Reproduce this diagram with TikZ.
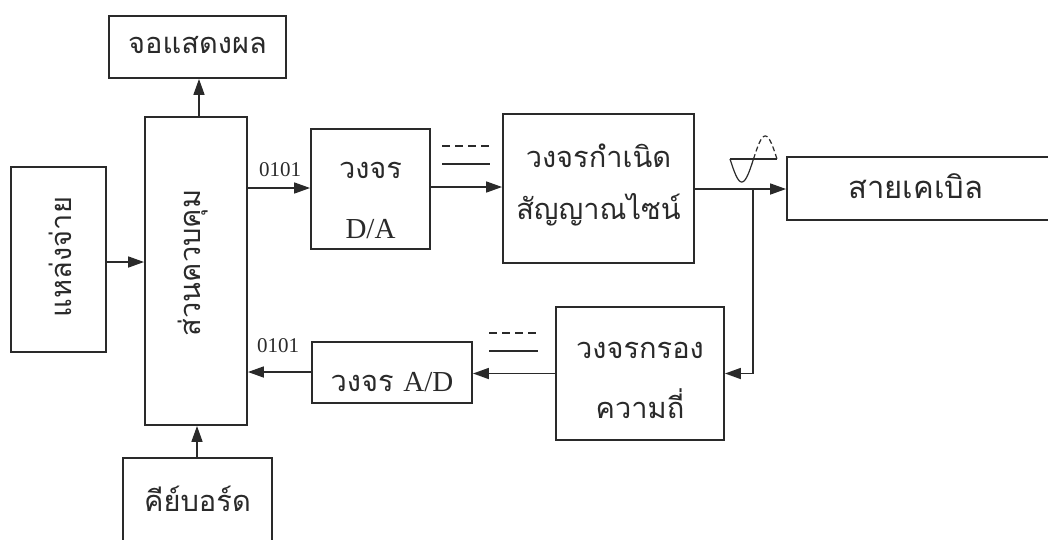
\documentclass[tikz,border=0pt]{standalone}
\usepackage{fontspec}
\setmainfont{Liberation Serif}
\newfontfamily\thai[Script=Thai]{Loma}
\usetikzlibrary{arrows.meta}
\definecolor{ink}{HTML}{2A2A2A}
\tikzset{
  box/.style={draw=ink, line width=1.9pt, inner sep=0pt, text=ink, align=center},
  lbl/.style={text=ink, inner sep=0pt, font=\thai\fontsize{29}{34}\selectfont},
  num/.style={text=ink, inner sep=0pt, font=\fontsize{21}{24}\selectfont},
  conn/.style={draw=ink, line width=1.7pt},
  arr/.style={conn, -{Triangle[length=16pt,width=11pt]}},
}
\begin{document}
\begin{tikzpicture}[x=1pt,y=-1pt]
\useasboundingbox (0,0) rectangle (1048,539);
\clip (0,0) rectangle (1048,539);
\fill[white] (0,0) rectangle (1048,539);
% boxes
\node[box, minimum width=177pt, minimum height=62pt] (disp) at (197.5,47) {};
\node[lbl] (dispT) at (197.5,45) {จอแสดงผล};
\node[box, minimum width=102pt, minimum height=308pt] (ctrl) at (196,271) {};
\node[lbl, rotate=90] (ctrlT) at (193,263) {ส่วนควบคุม};
\node[box, minimum width=95pt, minimum height=185pt] (src) at (58.5,259.5) {};
\node[lbl, rotate=90] (srcT) at (60,257) {แหล่งจ่าย};
\node[box, minimum width=119pt, minimum height=120pt] (da) at (370.5,189) {};
\node[lbl] (daT1) at (370.5,170) {วงจร};
\node[lbl, font=\fontsize{29}{32}\selectfont] (daT2) at (370.5,229) {D/A};
\node[box, minimum width=191pt, minimum height=149pt] (gen) at (598.5,188.5) {};
\node[lbl] (genT1) at (598.5,156) {วงจรกำเนิด};
\node[lbl] (genT2) at (598.5,210) {สัญญาณไซน์};
\node[box, minimum width=270pt, minimum height=63pt] (cable) at (922,188.5) {};
\node[lbl, font=\thai\fontsize{31}{34}\selectfont] (cableT) at (916,186) {สายเคเบิล};
\node[box, minimum width=168pt, minimum height=133pt] (filt) at (640,373.5) {};
\node[lbl] (filtT1) at (640,350) {วงจรกรอง};
\node[lbl] (filtT2) at (640,404) {ความถี่};
\node[box, minimum width=160pt, minimum height=61pt] (ad) at (392,372.5) {};
\node[lbl] (adT) at (392,382) {วงจร {\rmfamily\fontsize{29}{32}\selectfont A/D}};
\node[box, minimum width=149pt, minimum height=110pt] (kb) at (197.5,513) {};
\node[lbl] (kbT) at (197.5,499) {คีย์บอร์ด};
% labels 0101
\node[num] (n1) at (280,170) {0101};
\node[num] (n2) at (278,346) {0101};
% connectors
\draw[arr] (src.east |- 0,262) -- (ctrl.west |- 0,262);
\draw[arr] (ctrl.north -| 199,0) -- (disp.south -| 199,0);
\draw[arr] (kb.north -| 197,0) -- (ctrl.south -| 197,0);
\draw[arr] (ctrl.east |- 0,188) -- (da.west |- 0,188);
\draw[arr] (da.east |- 0,187) -- (gen.west |- 0,187);
\coordinate (br) at (753,189);
\draw[arr] (gen.east |- br) -- (cable.west |- br);
\draw[arr] (br) -- (br |- filt.center) -- (filt.east);
\draw[arr] (filt.west) -- (ad.east |- filt.west);
\draw[arr] (ad.west |- 0,372) -- (ctrl.east |- 0,372);
% digital symbol lines
\draw[conn, dash pattern=on 8pt off 5pt] (442,146) -- (492,146);
\draw[conn] (442,164) -- (490,164);
\draw[conn, dash pattern=on 8pt off 5pt] (489,333) -- (540,333);
\draw[conn] (489,351) -- (538,351);
% sine symbol
\draw[ink, line width=1.2pt] (730,159) -- (777,159);
\draw[ink, line width=1.2pt] plot[domain=0:180, samples=30] ({730+\x/360*47},{159+23*sin(\x)});
\draw[ink, line width=1.2pt, dash pattern=on 5pt off 3pt] plot[domain=180:360, samples=30] ({730+\x/360*47},{159+23*sin(\x)});
\end{tikzpicture}
\end{document}
